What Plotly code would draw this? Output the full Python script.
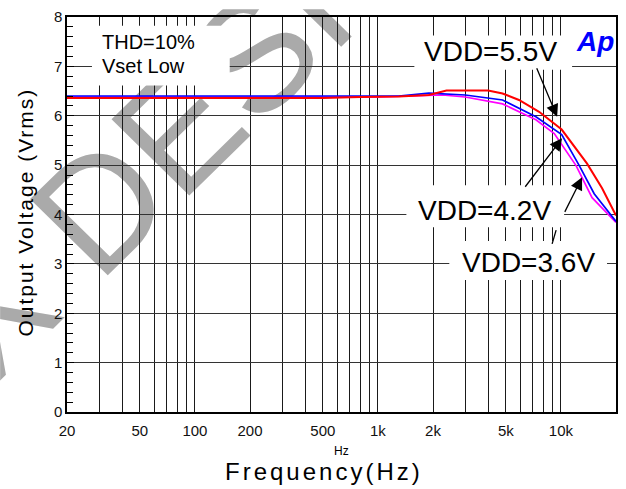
import base64
import plotly.graph_objects as go

# ---- data ----
freq_55 = [20, 100, 500, 800, 1300, 1900, 2370, 4000, 4800, 5900, 7600, 10100, 13900, 16790, 20000]
vout_55 = [6.36, 6.36, 6.36, 6.38, 6.39, 6.42, 6.51, 6.51, 6.45, 6.32, 6.08, 5.72, 5.03, 4.53, 3.98]

freq_42 = [20, 800, 1300, 1900, 3000, 4800, 7300, 10100, 12600, 15200, 20000]
vout_42 = [6.40, 6.39, 6.40, 6.46, 6.42, 6.32, 5.98, 5.62, 4.99, 4.42, 3.86]

freq_36 = [20, 1000, 2250, 3000, 4800, 7300, 9200, 12100, 14800, 20000]
vout_36 = [6.38, 6.38, 6.42, 6.38, 6.24, 5.92, 5.64, 4.99, 4.34, 3.84]

x_label_vals = [20, 50, 100, 200, 500, 1000, 2000, 5000, 10000, 20000]
x_label_text = ["20", "50", "100", "200", "500", "1k", "2k", "5k", "10k", "20k"]
x_grid_vals = [20, 30, 40, 50, 60, 70, 80, 90, 100, 200, 300, 400, 500, 600, 700, 800, 900,
               1000, 2000, 3000, 4000, 5000, 6000, 7000, 8000, 9000, 10000, 20000]

# ---- layout geometry (pixels) ----
W, H = 626, 489
L, R, T, B = 67, 9, 8, 77
PW, PH = W - L - R, H - T - B


def px(xp):
    return (xp - L) / PW


def py(yp):
    return (H - B - yp) / PH


FONT = "Arial, Liberation Sans, sans-serif"

fig = go.Figure()
fig.add_trace(go.Scatter(x=freq_36, y=vout_36, mode="lines", line=dict(color="#ff00ff", width=1.7), name="VDD=3.6V"))
fig.add_trace(go.Scatter(x=freq_42, y=vout_42, mode="lines", line=dict(color="#0000ff", width=1.7), name="VDD=4.2V"))
fig.add_trace(go.Scatter(x=freq_55, y=vout_55, mode="lines", line=dict(color="#ff0000", width=2), name="VDD=5.5V"))

tick_text = [x_label_text[x_label_vals.index(v)] if v in x_label_vals else "" for v in x_grid_vals]

fig.update_xaxes(type="log", range=[1.30103, 4.30103], tickmode="array", tickvals=x_grid_vals,
                 ticktext=tick_text, showgrid=True, gridcolor="#1a1a1a", gridwidth=1, ticks="",
                 ticklabelstandoff=4,
                 showline=True, linecolor="black", linewidth=1.5, mirror=True,
                 tickfont=dict(family=FONT, size=15, color="#111"), zeroline=False)
fig.update_yaxes(range=[0, 8], dtick=1, showgrid=True, gridcolor="#333", gridwidth=1,
                 ticks="inside", ticklen=7, tickcolor="black",
                 minor=dict(dtick=0.2, ticks="inside", ticklen=6, tickcolor="black", showgrid=False),
                 showline=True, linecolor="black", linewidth=1.5, mirror=True,
                 tickfont=dict(family=FONT, size=15, color="#111"), zeroline=False)

# white label boxes (pixel boxes -> paper)
boxes = [(92, 17, 230, 78), (415, 27, 573, 62), (407, 180, 565, 223), (450, 237, 608, 277)]
shapes = []
for (x0, y0, x1, y1) in boxes:
    shapes.append(dict(type="rect", xref="paper", yref="paper", x0=px(x0), x1=px(x1), y0=py(y1), y1=py(y0),
                       fillcolor="white", line=dict(width=0), layer="above"))
# visible tail fragment of the 3.6V arrow below the 4.2V box
shapes.append(dict(type="line", xref="paper", yref="paper", x0=px(553), y0=py(240), x1=px(557), y1=py(226),
                   line=dict(color="black", width=1.3), layer="above"))

ann = []


def label(text, xp, yp, size, xanchor="center", color="black", **kw):
    ann.append(dict(text=text, x=px(xp), y=py(yp), xref="paper", yref="paper", showarrow=False,
                    xanchor=xanchor, yanchor="middle", font=dict(family=FONT, size=size, color=color), **kw))


def arrow(tail, tip):
    ann.append(dict(text="", x=px(tip[0]), y=py(tip[1]), xref="paper", yref="paper", showarrow=True,
                    ax=tail[0] - tip[0], ay=tail[1] - tip[1], arrowhead=2, arrowsize=1.9, arrowwidth=1.3,
                    arrowcolor="black", standoff=0, startstandoff=0))


arrow((537, 60), (558, 110))
arrow((525, 182), (563, 132))
arrow((565, 208), (583, 172))

label("THD=10%", 100, 34, 20, xanchor="left")
label("Vset Low", 100, 58, 20, xanchor="left")
label("VDD=5.5V", 491, 43, 28)
label("VDD=4.2V", 485, 206, 28)
label("VDD=3.6V", 529, 259, 28)
label("<b><i>Ap</i></b>", 596, 33, 28, color="#0000ff")
label("Hz", 342, 452, 12)
label('<span style="letter-spacing:3px">Frequency(Hz)</span>', 324, 473, 24)
label('<span style="letter-spacing:2px">Output Voltage (Vrms)</span>', 25, 208, 21, textangle=-90)

# watermark
svg = ('<svg xmlns="http://www.w3.org/2000/svg" width="626" height="489" viewBox="0 0 626 489">'
       '<text transform="translate(-134,514) rotate(-45)" font-family="Liberation Sans, Arial, sans-serif" '
       'font-size="160" fill="#aaaaaa">MIX DESIGN</text></svg>')
src = "data:image/svg+xml;base64," + base64.b64encode(svg.encode()).decode()

fig.update_layout(
    width=W, height=H, margin=dict(l=L, r=R, t=T, b=B, pad=0),
    paper_bgcolor="white", plot_bgcolor="rgba(0,0,0,0)", showlegend=False,
    shapes=shapes, annotations=ann,
    images=[dict(source=src, xref="paper", yref="paper", x=-L / PW, y=1 + T / PH, sizex=W / PW, sizey=H / PH,
                 xanchor="left", yanchor="top", sizing="stretch", layer="below")],
)

fig.write_html("out.html")
